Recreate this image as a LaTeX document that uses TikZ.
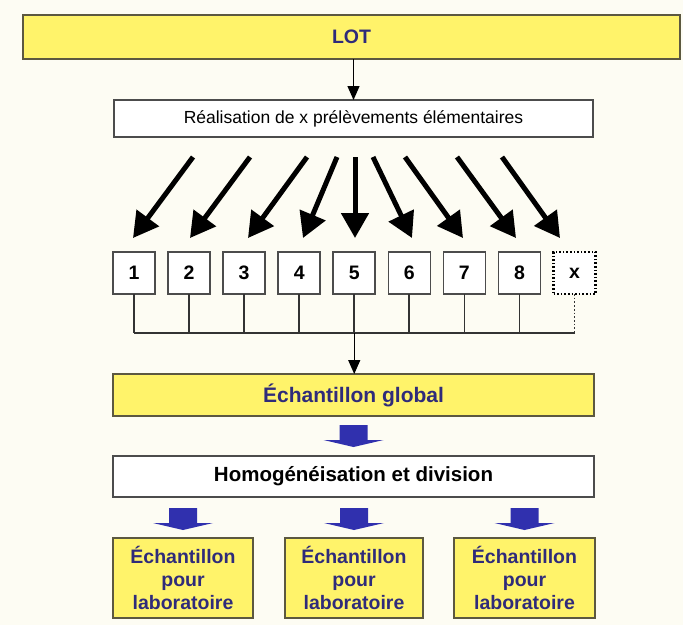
\documentclass[tikz,border=0pt]{standalone}
\usepackage{fontspec}
\setmainfont{Liberation Sans}
\usetikzlibrary{arrows.meta,calc}
\definecolor{bg}{HTML}{FDFCF3}
\definecolor{lotyellow}{HTML}{FFF36A}
\definecolor{edgecol}{HTML}{5C5840}
\definecolor{navy}{HTML}{2F2B7A}
\definecolor{blockblue}{HTML}{3030AE}
\begin{document}
\begin{tikzpicture}[x=1pt,y=-1pt,
  ybox/.style={draw=edgecol,fill=lotyellow,line width=1.6pt,inner sep=0pt,outer sep=0pt,text=navy},
  wbox/.style={draw=black!70,fill=white,line width=1.6pt,inner sep=0pt,outer sep=0pt},
  numbox/.style={draw=black!70,fill=white,line width=1.6pt,minimum width=42pt,minimum height=42pt,inner sep=0pt,outer sep=0pt,font=\fontsize{19.5}{21}\selectfont\bfseries},
  bigarrow/.style={line width=5pt,-{Triangle[length=25pt,width=27pt]}},
  thinarrow/.style={line width=1.3pt,-{Triangle[length=14pt,width=12pt]}},
  busline/.style={line width=1.7pt,draw=black!80},
  blockarr/.pic={\fill[blockblue] (-14,0) -- (14,0) -- (14,15) -- (30,15) -- (0,22) -- (-30,15) -- (-14,15) -- cycle;}
]
\fill[bg] (0,0) rectangle (683,625);
\useasboundingbox (0,0) rectangle (683,625);

% top boxes
\node[ybox,minimum width=657pt,minimum height=44pt,font=\fontsize{19.5}{22}\selectfont\bfseries] (lot) at (351.5,37) {LOT};
\node[wbox,minimum width=479pt,minimum height=37pt,font=\fontsize{17.5}{20}\selectfont] (real) at (353.5,118.5) {Réalisation de x prélèvements élémentaires};
\draw[thinarrow] (real.north |- lot.south) -- (real.north);

% numbered boxes
\foreach \i in {1,...,8}{
  \node[numbox] (b\i) at ({134+55.06*(\i-1)},273) {\i};
}
\node[numbox,draw=black,dotted,line width=2.4pt] (bx) at (574.5,273) {x};

% big arrows
\coordinate (t1) at (193,157); \coordinate (h1) at (133,238);
\coordinate (t2) at (250,157); \coordinate (h2) at (190,238);
\coordinate (t3) at (307,157); \coordinate (h3) at (248,238);
\coordinate (t4) at (337,157); \coordinate (h4) at (303,238);
\coordinate (t5) at (355,157); \coordinate (h5) at (355,238);
\coordinate (t6) at (373,157); \coordinate (h6) at (412,238);
\coordinate (t7) at (405,157); \coordinate (h7) at (463,238);
\coordinate (t8) at (457,157); \coordinate (h8) at (516,238);
\coordinate (t9) at (502,157); \coordinate (h9) at (560,238);
\foreach \i in {1,...,9}{
  \draw[bigarrow] (t\i) -- (h\i);
}

% bus
\coordinate (busL) at (134,333);
\draw[busline] (b1.south |- busL) -- (bx.south |- busL);
\foreach \i in {1,...,8}{
  \draw[busline] (b\i.south) -- (b\i.south |- busL);
}
\draw[busline,dotted,line width=1.2pt] (bx.south) -- (bx.south |- busL);

% global sample
\node[ybox,minimum width=481pt,minimum height=42pt,font=\fontsize{21}{24}\selectfont\bfseries] (glob) at (353.5,395) {Échantillon global};
\draw[thinarrow] (b5.south |- busL) -- (b5.south |- glob.north);

\path (glob.south) ++(0,9) pic {blockarr};

\node[wbox,minimum width=481pt,minimum height=41pt,font=\fontsize{20.5}{24}\selectfont\bfseries] (homog) at (353.5,476.5) {Homogénéisation et division};

% lab samples
\node[ybox,minimum width=140pt,minimum height=80pt,align=center,font=\fontsize{19.5}{23.4}\selectfont\bfseries] (l1) at (183,578) {Échantillon\\pour\\laboratoire};
\node[ybox,minimum width=138pt,minimum height=80pt,align=center,font=\fontsize{19.5}{23.4}\selectfont\bfseries] (l2) at (354,578) {Échantillon\\pour\\laboratoire};
\node[ybox,minimum width=141pt,minimum height=80pt,align=center,font=\fontsize{19.5}{23.4}\selectfont\bfseries] (l3) at (524.5,578) {Échantillon\\pour\\laboratoire};

\foreach \n in {l1,l2,l3}{
  \path (\n.north |- homog.south) ++(0,11) pic {blockarr};
}
\end{tikzpicture}
\end{document}
